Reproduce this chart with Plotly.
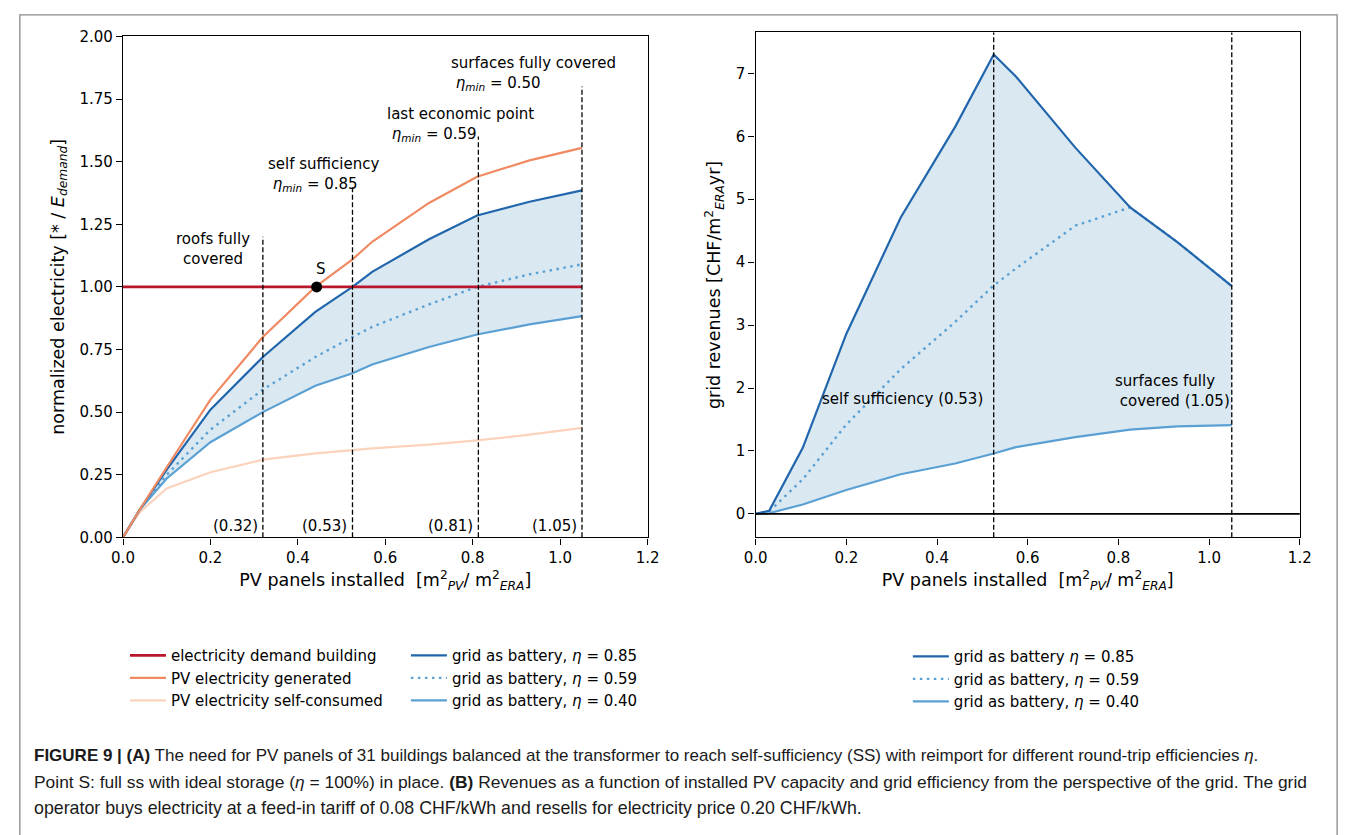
import plotly.graph_objects as go

# ---------------- data: panel (A) ----------------
x_a = [0, 0.038, 0.1, 0.2, 0.32, 0.44, 0.525, 0.57, 0.70, 0.81, 0.93, 1.05]
pv_generated = [0, 0.11, 0.28, 0.55, 0.80, 1.00, 1.11, 1.18, 1.335, 1.44, 1.505, 1.555]
pv_self = [0, 0.10, 0.195, 0.26, 0.31, 0.335, 0.348, 0.355, 0.37, 0.387, 0.41, 0.437]
eta85_a = [0, 0.11, 0.27, 0.51, 0.72, 0.90, 1.00, 1.06, 1.19, 1.285, 1.34, 1.385]
eta59_a = [0, 0.11, 0.25, 0.43, 0.59, 0.72, 0.80, 0.84, 0.93, 1.00, 1.05, 1.09]
eta40_a = [0, 0.11, 0.235, 0.38, 0.50, 0.605, 0.655, 0.69, 0.76, 0.81, 0.85, 0.883]
demand_level = 1.0
s_point_x = [0.443]
s_point_y = [1.0]
mark_x = [0.32, 0.525, 0.813, 1.05]
mark_top = [1.2, 1.4, 1.6, 1.8]
mark_labels = ["(0.32)", "(0.53)", "(0.81)", "(1.05)"]

# ---------------- data: panel (B) ----------------
x_b = [0, 0.03, 0.104, 0.2, 0.32, 0.44, 0.525, 0.574, 0.705, 0.826, 0.93, 1.05]
rev85 = [0, 0.05, 1.05, 2.86, 4.71, 6.15, 7.30, 6.95, 5.82, 4.87, 4.32, 3.62]
rev59 = [0, 0.04, 0.55, 1.42, 2.30, 3.05, 3.63, 3.90, 4.58, 4.87, 4.32, 3.62]
rev40 = [0, 0.01, 0.15, 0.38, 0.63, 0.80, 0.96, 1.06, 1.22, 1.34, 1.39, 1.41]
rev_marks = [0.525, 1.05]

x_ticks = [0.0, 0.2, 0.4, 0.6, 0.8, 1.0, 1.2]
y_ticks_a = [0.0, 0.25, 0.5, 0.75, 1.0, 1.25, 1.5, 1.75, 2.0]
y_ticks_b = [0, 1, 2, 3, 4, 5, 6, 7]

# ---------------- style ----------------
W, H = 1356, 835
FONT = "DejaVu Sans"
RED = "#b8172c"
ORANGE = "#ef8a62"
PEACH = "#fbd3bd"
DBLUE = "#2166ac"
LBLUE = "#5aa0d3"
FILL = "rgba(214,230,240,0.9)"


def px_x(p):
    return p / W


def px_y(p):
    return 1 - p / H


fig = go.Figure()

# ---- panel A ----
fig.add_trace(go.Scatter(x=x_a + x_a[::-1], y=eta85_a + eta40_a[::-1], fill="toself",
                         fillcolor=FILL, line=dict(width=0), mode="lines",
                         hoverinfo="skip", showlegend=False, xaxis="x", yaxis="y"))
fig.add_trace(go.Scatter(x=x_a, y=pv_self, mode="lines", line=dict(color=PEACH, width=2.2),
                         name="PV electricity self-consumed", legend="legend", legendrank=3,
                         xaxis="x", yaxis="y"))
fig.add_trace(go.Scatter(x=x_a, y=eta40_a, mode="lines", line=dict(color=LBLUE, width=2.2),
                         name="grid as battery, <i>η</i> = 0.40", legend="legend2", legendrank=3,
                         xaxis="x", yaxis="y"))
fig.add_trace(go.Scatter(x=x_a, y=eta59_a, mode="lines",
                         line=dict(color=LBLUE, width=2.4, dash="2.5px,4.5px"),
                         name="grid as battery, <i>η</i> = 0.59", legend="legend2", legendrank=2,
                         xaxis="x", yaxis="y"))
fig.add_trace(go.Scatter(x=x_a, y=eta85_a, mode="lines", line=dict(color=DBLUE, width=2.2),
                         name="grid as battery, <i>η</i> = 0.85", legend="legend2", legendrank=1,
                         xaxis="x", yaxis="y"))
fig.add_trace(go.Scatter(x=x_a, y=pv_generated, mode="lines", line=dict(color=ORANGE, width=2.2),
                         name="PV electricity generated", legend="legend", legendrank=2,
                         xaxis="x", yaxis="y"))
fig.add_trace(go.Scatter(x=[x_a[0], x_a[-1]], y=[demand_level, demand_level], mode="lines",
                         line=dict(color=RED, width=2.6),
                         name="electricity demand building", legend="legend", legendrank=1,
                         xaxis="x", yaxis="y"))
fig.add_trace(go.Scatter(x=s_point_x, y=s_point_y, mode="markers",
                         marker=dict(color="black", size=11), showlegend=False,
                         xaxis="x", yaxis="y"))

# ---- panel B ----
fig.add_trace(go.Scatter(x=x_b + x_b[::-1], y=rev85 + rev40[::-1], fill="toself",
                         fillcolor=FILL, line=dict(width=0), mode="lines",
                         hoverinfo="skip", showlegend=False, xaxis="x2", yaxis="y2"))
fig.add_trace(go.Scatter(x=x_b, y=rev40, mode="lines", line=dict(color=LBLUE, width=2.2),
                         name="grid as battery, <i>η</i> = 0.40", legend="legend3", legendrank=3,
                         xaxis="x2", yaxis="y2"))
fig.add_trace(go.Scatter(x=x_b, y=rev59, mode="lines",
                         line=dict(color=LBLUE, width=2.4, dash="2.5px,4.5px"),
                         name="grid as battery, <i>η</i> = 0.59", legend="legend3", legendrank=2,
                         xaxis="x2", yaxis="y2"))
fig.add_trace(go.Scatter(x=x_b, y=rev85, mode="lines", line=dict(color=DBLUE, width=2.2),
                         name="grid as battery <i>η</i> = 0.85", legend="legend3", legendrank=1,
                         xaxis="x2", yaxis="y2"))

shapes = []
for mx, mt in zip(mark_x, mark_top):
    shapes.append(dict(type="line", xref="x", yref="y", x0=mx, x1=mx, y0=0, y1=mt,
                       line=dict(color="black", width=1.3, dash="5px,2.5px")))
for mx in rev_marks:
    shapes.append(dict(type="line", xref="x2", yref="y2 domain", x0=mx, x1=mx, y0=0, y1=1,
                       line=dict(color="black", width=1.3, dash="5px,2.5px")))
shapes.append(dict(type="line", xref="x2 domain", yref="y2", x0=0, x1=1, y0=0, y1=0,
                   line=dict(color="black", width=1.6)))
# outer frame of the figure
shapes.append(dict(type="rect", xref="paper", yref="paper", x0=px_x(8), x1=px_x(1349),
                   y0=-0.02, y1=px_y(6), line=dict(color="#8a8a8a", width=1.3)))

TF = dict(family=FONT, size=15, color="black")
ann = []
for mx, lab in zip(mark_x, mark_labels):
    ann.append(dict(x=mx, y=0.045, xref="x", yref="y", text=lab, showarrow=False,
                    xanchor="right", yanchor="middle", xshift=-3, font=TF))
ann.append(dict(x=0.205, y=1.15, xref="x", yref="y", text="roofs fully<br>covered",
                showarrow=False, align="center", xanchor="center", yanchor="middle", font=TF))
ann.append(dict(x=0.328, y=1.45, xref="x", yref="y",
                text="self sufficiency<br>\u00a0<i>η</i><sub><i>min</i></sub> = 0.85",
                showarrow=False, align="left", xanchor="left", yanchor="middle", font=TF))
ann.append(dict(x=0.6, y=1.65, xref="x", yref="y",
                text="last economic point<br>\u00a0<i>η</i><sub><i>min</i></sub> = 0.59",
                showarrow=False, align="left", xanchor="left", yanchor="middle", font=TF))
ann.append(dict(x=0.746, y=1.85, xref="x", yref="y",
                text="surfaces fully covered<br>\u00a0<i>η</i><sub><i>min</i></sub> = 0.50",
                showarrow=False, align="left", xanchor="left", yanchor="middle", font=TF))
ann.append(dict(x=s_point_x[0] + 0.01, y=1.07, xref="x", yref="y", text="S", showarrow=False,
                xanchor="center", yanchor="middle", font=TF))
ann.append(dict(x=0.505, y=1.82, xref="x2", yref="y2", text="self sufficiency (0.53)",
                showarrow=False, xanchor="right", yanchor="middle", font=TF))
ann.append(dict(x=1.05, y=1.96, xref="x2", yref="y2",
                text="surfaces fully<br>\u00a0covered (1.05)",
                showarrow=False, align="left", xanchor="right", yanchor="middle", font=TF))

cap_lines = [
    "<b>FIGURE 9 | (A)</b> The need for PV panels of 31 buildings balanced at the transformer to reach self-sufficiency (SS) with reimport for different round-trip efficiencies <i>η</i>.",
    "Point S: full ss with ideal storage (<i>η</i> = 100%) in place. <b>(B)</b> Revenues as a function of installed PV capacity and grid efficiency from the perspective of the grid. The grid",
    "operator buys electricity at a feed-in tariff of 0.08 CHF/kWh and resells for electricity price 0.20 CHF/kWh.",
]
cap_y = [763, 790, 817]
cap_size = [17.0, 17.4, 17.8]
for line, yy, sz in zip(cap_lines, cap_y, cap_size):
    ann.append(dict(x=px_x(20), y=px_y(yy), xref="paper", yref="paper", text=line,
                    showarrow=False, xanchor="left", yanchor="middle", align="left",
                    font=dict(family="Liberation Sans", size=sz, color="#1a1a1a")))

axis_common = dict(showline=True, mirror=True, linecolor="black", linewidth=1.4,
                   ticks="outside", ticklen=6, tickwidth=1.2, tickcolor="black",
                   showgrid=False, zeroline=False, tickfont=TF)
TITLEF = dict(family=FONT, size=17.5, color="black")
xtitle = "PV panels installed \u00a0[m<sup>2</sup><sub><i>PV</i></sub>/ m<sup>2</sup><sub><i>ERA</i></sub>]"

LEGF = dict(family=FONT, size=15, color="black")
fig.update_layout(
    width=W, height=H, margin=dict(l=0, r=0, t=0, b=0),
    paper_bgcolor="white", plot_bgcolor="white",
    xaxis=dict(domain=[px_x(113), px_x(647)], range=[0, 1.2], tickvals=x_ticks,
               tickformat=".1f", anchor="y",
               title=dict(text=xtitle, font=TITLEF, standoff=8), **axis_common),
    yaxis=dict(domain=[px_y(540), px_y(28)], range=[0, 2.0], tickvals=y_ticks_a,
               tickformat=".2f", anchor="x",
               title=dict(text="normalized electricity [* / <i>E</i><sub><i>demand</i></sub>]",
                          font=TITLEF, standoff=10), **axis_common),
    xaxis2=dict(domain=[px_x(757), px_x(1311)], range=[0, 1.2], tickvals=x_ticks,
                tickformat=".1f", anchor="y2",
                title=dict(text=xtitle, font=TITLEF, standoff=8), **axis_common),
    yaxis2=dict(domain=[px_y(540), px_y(24)], range=[-0.373, 7.65], tickvals=y_ticks_b,
                anchor="x2",
                title=dict(text="grid revenues [CHF/m<sup>2</sup><sub><i>ERA</i></sub>yr]",
                           font=TITLEF, standoff=10), **axis_common),
    legend=dict(x=px_x(115), y=px_y(644), xanchor="left", yanchor="top", font=LEGF,
                bgcolor="rgba(0,0,0,0)", borderwidth=0, tracegroupgap=0, itemwidth=36),
    legend2=dict(x=px_x(401), y=px_y(644), xanchor="left", yanchor="top", font=LEGF,
                 bgcolor="rgba(0,0,0,0)", borderwidth=0, tracegroupgap=0, itemwidth=36),
    legend3=dict(x=px_x(912), y=px_y(645), xanchor="left", yanchor="top", font=LEGF,
                 bgcolor="rgba(0,0,0,0)", borderwidth=0, tracegroupgap=0, itemwidth=36),
    shapes=shapes, annotations=ann, showlegend=True,
)

fig.write_html("out.html")
